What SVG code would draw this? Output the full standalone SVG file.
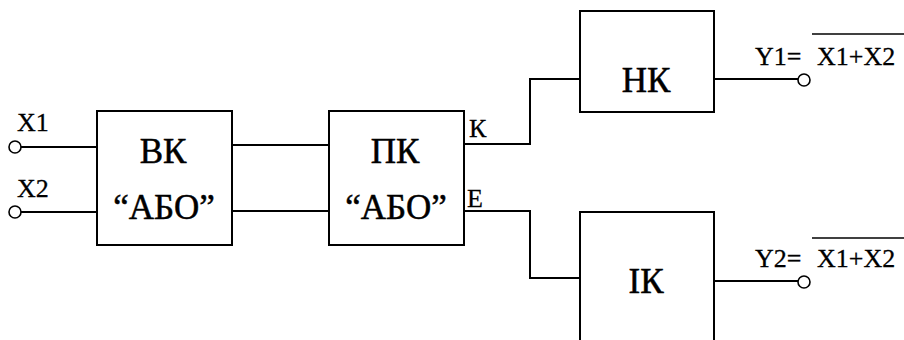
<svg xmlns="http://www.w3.org/2000/svg" width="904" height="340" viewBox="0 0 904 340">
<style>
.box{fill:#fff;stroke:#000;stroke-width:2}
.wire{fill:none;stroke:#000;stroke-width:2}
.pin{fill:#fff;stroke:#000;stroke-width:1.6}
.big{font-family:"Liberation Serif","Times New Roman",serif;font-size:35px;fill:#000;stroke:#000;stroke-width:0.5}
.lbl{font-family:"Liberation Serif","Times New Roman",serif;font-size:26px;fill:#000;stroke:#000;stroke-width:0.3}
.ol{stroke:#000;stroke-width:1.6}
</style>
<rect width="904" height="340" fill="#fff"/>
<g id="connectors">
<path class="wire" d="M21 147 H97"/>
<path class="wire" d="M21 212 H97"/>
<path class="wire" d="M232 145 H329"/>
<path class="wire" d="M232 211 H329"/>
<path class="wire" d="M464 144 H530 V79 H580"/>
<path class="wire" d="M464 211 H530 V278 H580"/>
<path class="wire" d="M714 79 H798"/>
<path class="wire" d="M714 281 H798"/>
</g>
<g id="in-x1">
<circle class="pin" cx="15" cy="147" r="6"/>
<text class="lbl" x="17" y="131">X1</text>
</g>
<g id="in-x2">
<circle class="pin" cx="15" cy="212" r="6"/>
<text class="lbl" x="17" y="197">X2</text>
</g>
<g id="vk">
<rect class="box" x="97" y="111" width="135" height="134"/>
<text class="big" x="163" y="163" text-anchor="middle">ВК</text>
<text class="big" x="164" y="219" text-anchor="middle">“АБО”</text>
</g>
<g id="pk">
<rect class="box" x="329" y="111" width="135" height="134"/>
<text class="big" x="395" y="163" text-anchor="middle">ПК</text>
<text class="big" x="396" y="219" text-anchor="middle">“АБО”</text>
<text class="lbl" x="469" y="137" font-size="29">К</text>
<text class="lbl" x="467" y="207" font-size="29">Е</text>
</g>
<g id="nk">
<rect class="box" x="580" y="11" width="134" height="101"/>
<text class="big" x="646" y="92" text-anchor="middle">НК</text>
</g>
<g id="ik">
<rect class="box" x="580" y="212" width="134" height="140"/>
<text class="big" x="646" y="293" text-anchor="middle">ІК</text>
</g>
<g id="out-y1">
<circle class="pin" cx="804" cy="80" r="6"/>
<text class="lbl" x="755" y="65" font-size="28">Y1=</text>
<text class="lbl" x="817" y="65" font-size="28">X1+X2</text>
<line class="ol" x1="812" y1="34" x2="904" y2="34"/>
</g>
<g id="out-y2">
<circle class="pin" cx="804" cy="282" r="6"/>
<text class="lbl" x="755" y="267" font-size="28">Y2=</text>
<text class="lbl" x="817" y="267" font-size="28">X1+X2</text>
<line class="ol" x1="812" y1="238" x2="904" y2="238"/>
</g>
</svg>
